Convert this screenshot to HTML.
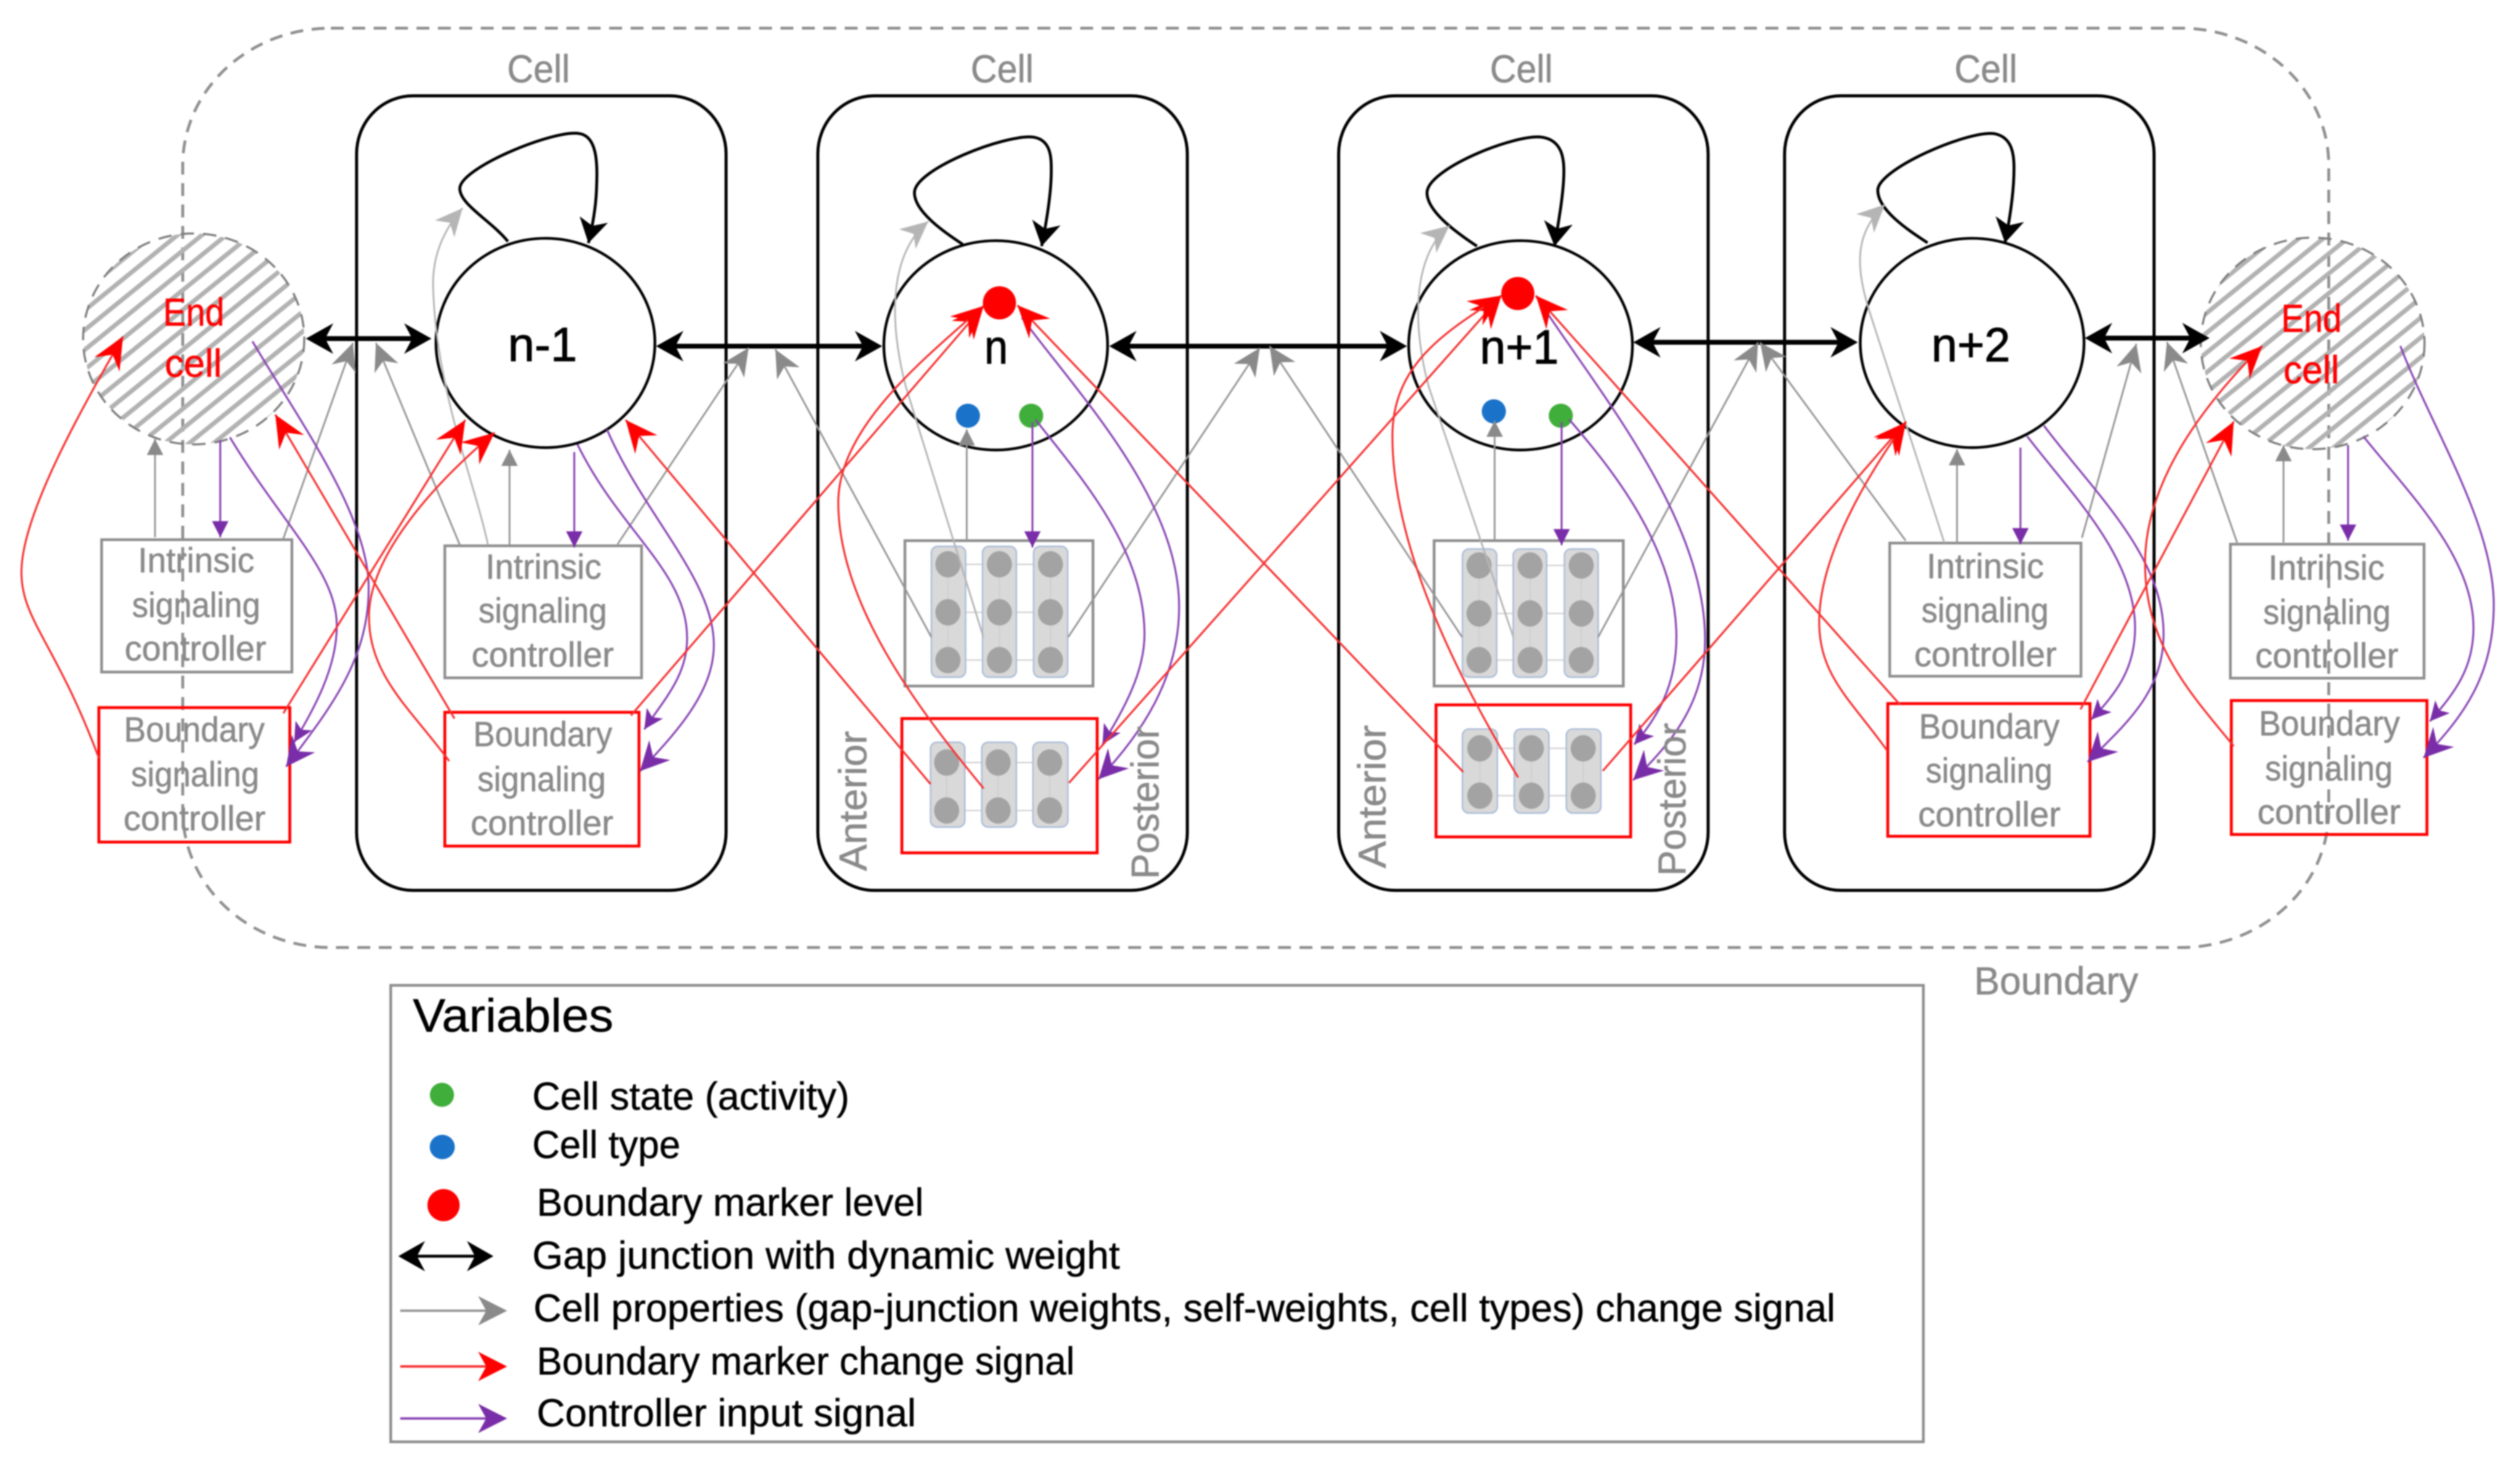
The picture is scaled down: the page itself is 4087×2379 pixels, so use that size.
<!DOCTYPE html>
<html><head><meta charset="utf-8"><style>
html,body{margin:0;padding:0;background:#fff}
svg{display:block;filter:blur(1px)}
text{font-family:"Liberation Sans",sans-serif}
.g{fill:#8a8a8a;stroke:#8a8a8a;stroke-width:.25;font-size:21.5px}
.c{fill:#8a8a8a;stroke:#8a8a8a;stroke-width:.25;font-size:24px}
.n{fill:#000;stroke:#000;stroke-width:.4;font-size:30px}
.e{fill:#f00;stroke:#f00;stroke-width:.25;font-size:24px}
.l{fill:#000;stroke:#000;stroke-width:.2;font-size:24px}
.cell{fill:none;stroke:#000;stroke-width:1.9}
.node{fill:none;stroke:#000;stroke-width:1.7}
.ib{fill:none;stroke:#8f8f8f;stroke-width:1.7}
.bb{fill:none;stroke:#f00;stroke-width:1.8}
.gl{fill:none;stroke:#969696;stroke-width:1.1}
.ll{fill:none;stroke:#b5b5b5;stroke-width:1.1}
.rl{fill:none;stroke:#f73030;stroke-width:1.2}
.pl{fill:none;stroke:#8a45b5;stroke-width:1.2}
.jl{fill:none;stroke:#000;stroke-width:3}
.lp{fill:none;stroke:#000;stroke-width:1.8}
.pill{fill:#d9d9d9;stroke:#a9bcd8;stroke-width:.9}
.dot{fill:#a3a3a3}
.w{stroke:#cfcfcf;stroke-width:.8;fill:none}
</style></head><body>
<svg xmlns="http://www.w3.org/2000/svg" width="4087" height="2379" viewBox="0 0 1565.3 911.15">
<defs>
<pattern id="h" patternUnits="userSpaceOnUse" width="9.55" height="9.55" patternTransform="rotate(-39)"><rect width="9.55" height="2.8" fill="#b2b2b2"/></pattern>
<marker id="mj" markerUnits="userSpaceOnUse" orient="auto-start-reverse" markerWidth="40" markerHeight="40" refX="20" refY="20" viewBox="0 0 40 40"><path d="M23,20 L6,10.5 L11,20 L6,29.5Z" fill="#000"/></marker>
<marker id="mk" markerUnits="userSpaceOnUse" orient="auto" markerWidth="40" markerHeight="40" refX="20" refY="20" viewBox="0 0 40 40"><path d="M20,20 L5,11 L9,20 L5,29Z" fill="#000"/></marker>
<marker id="gd" markerUnits="userSpaceOnUse" orient="auto" markerWidth="40" markerHeight="40" refX="20" refY="20" viewBox="0 0 40 40"><path d="M20,20 L3,12 L8,20 L3,28Z" fill="#8a8a8a"/></marker>
<marker id="gv" markerUnits="userSpaceOnUse" orient="auto" markerWidth="40" markerHeight="40" refX="20" refY="20" viewBox="0 0 40 40"><path d="M20,20 L10,14.9 L10,25.1Z" fill="#8a8a8a"/></marker>
<marker id="lg" markerUnits="userSpaceOnUse" orient="auto" markerWidth="40" markerHeight="40" refX="20" refY="20" viewBox="0 0 40 40"><path d="M20,20 L3,12 L8,20 L3,28Z" fill="#b5b5b5"/></marker>
<marker id="rd" markerUnits="userSpaceOnUse" orient="auto" markerWidth="40" markerHeight="40" refX="20" refY="20" viewBox="0 0 40 40"><path d="M20,20 L0,11 L7,20 L0,29Z" fill="#f00"/></marker>
<marker id="pb" markerUnits="userSpaceOnUse" orient="auto" markerWidth="40" markerHeight="40" refX="20" refY="20" viewBox="0 0 40 40"><path d="M20,20 L2,11 L8,20 L2,29Z" fill="#7a2da8"/></marker>
<marker id="ps" markerUnits="userSpaceOnUse" orient="auto" markerWidth="40" markerHeight="40" refX="20" refY="20" viewBox="0 0 40 40"><path d="M20,20 L8,14 L11,20 L8,26Z" fill="#7a2da8"/></marker>
<marker id="pv" markerUnits="userSpaceOnUse" orient="auto" markerWidth="40" markerHeight="40" refX="20" refY="20" viewBox="0 0 40 40"><path d="M20,20 L10,14.9 L10,25.1Z" fill="#7a2da8"/></marker>
</defs>
<rect width="1565.3" height="911.15" fill="#fff"/>

<!-- boundary -->
<rect x="113.5" y="17.5" width="1333" height="571" rx="92" ry="85" fill="none" stroke="#909090" stroke-width="1.8" stroke-dasharray="8 5.3"/>

<!-- end cells -->
<ellipse cx="120.3" cy="210.5" rx="68.7" ry="65.5" fill="url(#h)" stroke="#7f7f7f" stroke-width="1.3" stroke-dasharray="8.3 5.7"/>
<ellipse cx="1436.5" cy="213.3" rx="69.5" ry="65.7" fill="url(#h)" stroke="#7f7f7f" stroke-width="1.3" stroke-dasharray="8.3 5.7"/>

<!-- cells -->
<rect class="cell" x="221.5" y="59.5" width="229.5" height="493.5" rx="35" ry="36"/>
<rect class="cell" x="508" y="59.5" width="229.5" height="493.5" rx="35" ry="36"/>
<rect class="cell" x="831.5" y="59.5" width="229.5" height="493.5" rx="35" ry="36"/>
<rect class="cell" x="1108.5" y="59.5" width="229.5" height="493.5" rx="35" ry="36"/>

<!-- nodes -->
<ellipse class="node" cx="338.8" cy="213" rx="68" ry="65"/>
<ellipse class="node" cx="618.5" cy="214.5" rx="69.5" ry="65"/>
<ellipse class="node" cx="944.5" cy="214.5" rx="69.5" ry="65"/>
<ellipse class="node" cx="1225" cy="213" rx="69.5" ry="65"/>

<!-- networks -->
<g>
<rect class="ib" x="562.1" y="335.8" width="116.8" height="90.3"/>
<path class="w" d="M588.8,350.5H652.5M588.8,380.3H652.5M588.8,410H652.5"/>
<rect class="pill" x="578.5" y="339.3" width="21.3" height="81.3" rx="4"/><rect class="pill" x="610.3" y="339.3" width="21" height="81.3" rx="4"/><rect class="pill" x="642" y="339.3" width="21.2" height="81.3" rx="4"/>
<path class="w" d="M588.8,350.5V410M620.8,350.5V410M652.5,350.5V410"/>
<g class="dot"><ellipse cx="588.8" cy="350.5" rx="7.8" ry="8.2"/><ellipse cx="588.8" cy="380.3" rx="7.8" ry="8.2"/><ellipse cx="588.8" cy="410" rx="7.8" ry="8.2"/><ellipse cx="620.8" cy="350.5" rx="7.8" ry="8.2"/><ellipse cx="620.8" cy="380.3" rx="7.8" ry="8.2"/><ellipse cx="620.8" cy="410" rx="7.8" ry="8.2"/><ellipse cx="652.5" cy="350.5" rx="7.8" ry="8.2"/><ellipse cx="652.5" cy="380.3" rx="7.8" ry="8.2"/><ellipse cx="652.5" cy="410" rx="7.8" ry="8.2"/></g>
<rect class="bb" x="560.2" y="446.3" width="121.3" height="83.4"/>
<path class="w" d="M588,473.6H652M588,503.4H652"/>
<rect class="pill" x="578" y="461" width="21.3" height="52.7" rx="4"/><rect class="pill" x="609.8" y="461" width="21.5" height="52.7" rx="4"/><rect class="pill" x="641.6" y="461" width="21.7" height="52.7" rx="4"/>
<path class="w" stroke="#aaa" d="M588,473.6V503.4M620,473.6V503.4M652,473.6V503.4"/>
<g class="dot"><ellipse cx="588" cy="473.6" rx="7.8" ry="8.2"/><ellipse cx="588" cy="503.4" rx="7.8" ry="8.2"/><ellipse cx="620" cy="473.6" rx="7.8" ry="8.2"/><ellipse cx="620" cy="503.4" rx="7.8" ry="8.2"/><ellipse cx="652" cy="473.6" rx="7.8" ry="8.2"/><ellipse cx="652" cy="503.4" rx="7.8" ry="8.2"/></g>
</g>
<g>
<rect class="ib" x="890.8" y="335.8" width="117.5" height="90.3"/>
<path class="w" d="M918.7,351.2H982.2M918.7,381H982.2M918.7,410H982.2"/>
<rect class="pill" x="908.4" y="341" width="21.3" height="79.6" rx="4"/><rect class="pill" x="939.9" y="341" width="20.8" height="79.6" rx="4"/><rect class="pill" x="971.7" y="341" width="21" height="79.6" rx="4"/>
<path class="w" d="M918.7,351.2V410M950.4,351.2V410M982.2,351.2V410"/>
<g class="dot"><ellipse cx="918.7" cy="351.2" rx="7.8" ry="8.2"/><ellipse cx="918.7" cy="381" rx="7.8" ry="8.2"/><ellipse cx="918.7" cy="410" rx="7.8" ry="8.2"/><ellipse cx="950.4" cy="351.2" rx="7.8" ry="8.2"/><ellipse cx="950.4" cy="381" rx="7.8" ry="8.2"/><ellipse cx="950.4" cy="410" rx="7.8" ry="8.2"/><ellipse cx="982.2" cy="351.2" rx="7.8" ry="8.2"/><ellipse cx="982.2" cy="381" rx="7.8" ry="8.2"/><ellipse cx="982.2" cy="410" rx="7.8" ry="8.2"/></g>
<rect class="bb" x="892" y="437.8" width="120.9" height="82"/>
<path class="w" d="M919.2,464.8H983.4M919.2,494.2H983.4"/>
<rect class="pill" x="908.4" y="452.8" width="21.7" height="52.2" rx="4"/><rect class="pill" x="940.6" y="452.8" width="21.5" height="52.2" rx="4"/><rect class="pill" x="972.9" y="452.8" width="21.5" height="52.2" rx="4"/>
<path class="w" d="M919.2,464.8V494.2M951.2,464.8V494.2M983.4,464.8V494.2"/>
<g class="dot"><ellipse cx="919.2" cy="464.8" rx="7.8" ry="8.2"/><ellipse cx="919.2" cy="494.2" rx="7.8" ry="8.2"/><ellipse cx="951.2" cy="464.8" rx="7.8" ry="8.2"/><ellipse cx="951.2" cy="494.2" rx="7.8" ry="8.2"/><ellipse cx="983.4" cy="464.8" rx="7.8" ry="8.2"/><ellipse cx="983.4" cy="494.2" rx="7.8" ry="8.2"/></g>
</g>

<!-- controllers -->
<rect class="ib" x="63.1" y="335.2" width="118.2" height="82.2"/>
<rect class="ib" x="276.3" y="339" width="122.2" height="82"/>
<rect class="ib" x="1173.8" y="337.3" width="118.8" height="82.7"/>
<rect class="ib" x="1385.4" y="338" width="120.3" height="83.2"/>
<rect class="bb" x="61.4" y="439.5" width="118.6" height="83.5"/>
<rect class="bb" x="276.3" y="442.4" width="120.6" height="83.1"/>
<rect class="bb" x="1172.6" y="437" width="125.6" height="82.4"/>
<rect class="bb" x="1386" y="435.1" width="121.5" height="83.2"/>

<!-- markers -->
<ellipse cx="620.8" cy="188.1" rx="10.3" ry="10.3" fill="#f00"/>
<ellipse cx="601.2" cy="258.2" rx="7.5" ry="7.5" fill="#1a72c9"/>
<ellipse cx="640.5" cy="258.2" rx="7.5" ry="7.5" fill="#3fae3a"/>
<ellipse cx="942.8" cy="182.3" rx="10.3" ry="10.3" fill="#f00"/>
<ellipse cx="927.9" cy="255.5" rx="7.5" ry="7.5" fill="#1a72c9"/>
<ellipse cx="969.5" cy="258.2" rx="7.5" ry="7.5" fill="#3fae3a"/>

<!-- self loops -->
<path class="lp" marker-end="url(#mk)" d="M315.5,150 C305,137 285.5,127 285.6,117 C286,104 345,80 360,83 C372,85 371,105 370.5,118 C370,130 368,140 365.5,151"/>
<path class="lp" marker-end="url(#mk)" d="M598,151.8 C588,145 568,132 568,119.7 C568,105 625,83 642,85.2 C653,87 653,98 653,106 C653,120 650,138 647,152.9"/>
<path class="lp" marker-end="url(#mk)" d="M917.4,152.9 C907,146 886.4,132 886.4,119.7 C886.4,105 941,83 957.7,85.2 C970,87 971.4,98 971.4,106 C971.4,120 968,138 965.6,152.9"/>
<path class="lp" marker-end="url(#mk)" d="M1197.3,150.8 C1187,144 1166.4,131 1166.4,118.2 C1166.4,105 1222,81 1238.6,83 C1250,85 1251,96 1251,104.3 C1251,120 1248,138 1245.4,150.8"/>

<!-- gap junctions -->
<path class="jl" marker-start="url(#mj)" marker-end="url(#mj)" d="M193,210.3H265"/>
<path class="jl" marker-start="url(#mj)" marker-end="url(#mj)" d="M410.5,215H545"/>
<path class="jl" marker-start="url(#mj)" marker-end="url(#mj)" d="M692,215H871"/>
<path class="jl" marker-start="url(#mj)" marker-end="url(#mj)" d="M1017.5,212.6H1151"/>
<path class="jl" marker-start="url(#mj)" marker-end="url(#mj)" d="M1298,210H1369.5"/>

<!-- light gray to loops -->
<path class="ll" marker-end="url(#lg)" d="M303,338 C295,300 270,240 269,176 C269,155 278,140 287.3,129.3"/>
<path class="ll" marker-end="url(#lg)" d="M610.8,395.6 L562.6,240 C553.6,205 550,160 576.6,137.5"/>
<path class="ll" marker-end="url(#lg)" d="M940,395.7 L887.4,240 C878,205 876,160 900.3,140.2"/>
<path class="ll" marker-end="url(#lg)" d="M1207.7,337 L1162,195.9 C1152,165 1152,145 1170.8,127"/>

<!-- gray arrows -->
<path class="gl" marker-end="url(#gv)" d="M96.3,333.7V272.6"/>
<path class="gl" marker-end="url(#gd)" d="M176,334.5L219.2,213"/>
<path class="gl" marker-end="url(#gd)" d="M285.6,338.4L233.5,213"/>
<path class="gl" marker-end="url(#gv)" d="M316.5,338.4V279.4"/>
<path class="gl" marker-end="url(#gd)" d="M383.6,338L465,216"/>
<path class="gl" marker-end="url(#gd)" d="M578.5,395.7L481.6,217"/>
<path class="gl" marker-end="url(#gv)" d="M600.5,335.8V266.7"/>
<path class="gl" marker-end="url(#gd)" d="M663.5,395.7L782.5,216.1"/>
<path class="gl" marker-end="url(#gd)" d="M908.2,395.7L788.6,215"/>
<path class="gl" marker-end="url(#gv)" d="M928.4,335.8V261.3"/>
<path class="gl" marker-end="url(#gd)" d="M992.7,395.7L1092,212.7"/>
<path class="gl" marker-end="url(#gd)" d="M1183.7,335.8L1093.3,212.7"/>
<path class="gl" marker-end="url(#gv)" d="M1215.6,337V279"/>
<path class="gl" marker-end="url(#gd)" d="M1293.2,334L1327,213.5"/>
<path class="gl" marker-end="url(#gd)" d="M1389.6,337L1346,212.4"/>
<path class="gl" marker-end="url(#gv)" d="M1418.4,337V276.5"/>

<!-- purple vertical -->
<path class="pl" marker-end="url(#pv)" d="M136.8,273.5V333.7"/>
<path class="pl" marker-end="url(#pv)" d="M356.7,280.8V340"/>
<path class="pl" marker-end="url(#pv)" d="M641.3,262.3V340"/>
<path class="pl" marker-end="url(#pv)" d="M970,262.3V338.6"/>
<path class="pl" marker-end="url(#pv)" d="M1255,278V338"/>
<path class="pl" marker-end="url(#pv)" d="M1458.5,276.5V335.8"/>

<!-- purple curves -->
<path class="pl" marker-end="url(#ps)" d="M142.8,271.6 C175,325 209.2,355 209.2,388.7 C209.2,415 195,440 182.7,461"/>
<path class="pl" marker-end="url(#pb)" d="M156.8,212 C185,260 229,320 229,365 C229,410 205,440 177.7,476.2"/>
<path class="pl" marker-end="url(#ps)" d="M358.7,276 C385,330 426.8,355 426.8,396.5 C426.8,420 412,435 400.2,453"/>
<path class="pl" marker-end="url(#pb)" d="M377,266.7 C400,320 443.4,360 443.4,400.4 C443.4,430 420,455 397.5,479"/>
<path class="pl" marker-end="url(#ps)" d="M643.2,260.6 C670,295 710.9,340 710.9,394 C710.9,420 695,445 684.8,462.4"/>
<path class="pl" marker-end="url(#pb)" d="M634.7,197.3 C670,245 732.4,310 732.4,376.9 C732.4,420 710,455 682.3,484"/>
<path class="pl" marker-end="url(#ps)" d="M974.8,260.6 C1000,290 1041.3,340 1041.3,395.7 C1041.3,425 1030,445 1015.1,462.4"/>
<path class="pl" marker-end="url(#pb)" d="M954,183.7 C990,240 1059.1,320 1059.1,397.4 C1059.1,435 1040,460 1014.4,484.6"/>
<path class="pl" marker-end="url(#ps)" d="M1259.2,271 C1285,305 1326.2,345 1326.2,390 C1326.2,415 1315,430 1299,446.9"/>
<path class="pl" marker-end="url(#pb)" d="M1269.6,264.4 C1300,305 1343.9,345 1343.9,393.7 C1343.9,430 1320,450 1296.7,473.3"/>
<path class="pl" marker-end="url(#ps)" d="M1468,271 C1495,305 1536.4,345 1536.4,390 C1536.4,415 1525,430 1509.3,448"/>
<path class="pl" marker-end="url(#pb)" d="M1491,214.9 C1510,265 1549,325 1549,375.4 C1549,420 1530,445 1505.4,470.7"/>

<!-- red -->
<path class="rl" marker-end="url(#rd)" d="M61.4,470.8 C35,400 13.3,385 13.3,355.5 C13.3,320 50,255 76.4,209"/>
<path class="rl" marker-end="url(#rd)" d="M282.3,446.3L171,257.5"/>
<path class="rl" marker-end="url(#rd)" d="M176,443L289,260.8"/>
<path class="rl" marker-end="url(#rd)" d="M279,472.7 C255,440 229.2,420 229.2,382.8 C229.2,345 270,300 307.2,268.7"/>
<path class="rl" marker-end="url(#rd)" d="M391.9,444.4L611,190"/>
<path class="rl" marker-end="url(#rd)" d="M578,487L388.6,260.8"/>
<path class="rl" marker-end="url(#rd)" d="M611,489.7 C570,440 520.7,375 520.7,312 C520.7,265 575,222 611,190"/>
<path class="rl" marker-end="url(#rd)" d="M664,486.3L932.6,183.6"/>
<path class="rl" marker-end="url(#rd)" d="M908.9,479.5L632,189.6"/>
<path class="rl" marker-end="url(#rd)" d="M943,482.9 C905,420 864.9,340 864.9,270.9 C864.9,225 900,205 932.6,183.6"/>
<path class="rl" marker-end="url(#rd)" d="M995.6,478.8L1183.7,262.3"/>
<path class="rl" marker-end="url(#rd)" d="M1180.2,437.7L954,183.6"/>
<path class="rl" marker-end="url(#rd)" d="M1172.3,466.3 C1150,435 1130,420 1130,386.4 C1130,345 1160,295 1184,261.8"/>
<path class="rl" marker-end="url(#rd)" d="M1292.3,440.6L1387.5,261.8"/>
<path class="rl" marker-end="url(#rd)" d="M1387.5,463.4 C1360,430 1332.4,400 1332.4,349.8 C1332.4,295 1375,245 1405.2,214.9"/>

<!-- text -->
<text class="c" x="315" y="51.2" textLength="39" lengthAdjust="spacingAndGlyphs">Cell</text>
<text class="c" x="603" y="51.2" textLength="39" lengthAdjust="spacingAndGlyphs">Cell</text>
<text class="c" x="925.5" y="51.2" textLength="39" lengthAdjust="spacingAndGlyphs">Cell</text>
<text class="c" x="1214" y="51.2" textLength="39" lengthAdjust="spacingAndGlyphs">Cell</text>
<text class="n" x="315.5" y="224.3" textLength="43" lengthAdjust="spacingAndGlyphs">n-1</text>
<text class="n" x="611.5" y="225.7" textLength="14.5" lengthAdjust="spacingAndGlyphs">n</text>
<text class="n" x="919.2" y="225.7" textLength="49" lengthAdjust="spacingAndGlyphs">n+1</text>
<text class="n" x="1199.7" y="224.4" textLength="49" lengthAdjust="spacingAndGlyphs">n+2</text>
<text class="e" x="101.3" y="202.2" textLength="38" lengthAdjust="spacingAndGlyphs">End</text>
<text class="e" x="102.3" y="234" textLength="35.5" lengthAdjust="spacingAndGlyphs">cell</text>
<text class="e" x="1417" y="206.1" textLength="37.5" lengthAdjust="spacingAndGlyphs">End</text>
<text class="e" x="1418.4" y="238" textLength="34.6" lengthAdjust="spacingAndGlyphs">cell</text>

<text class="g" x="85.7" y="355.5" textLength="72.3" lengthAdjust="spacingAndGlyphs">Intrinsic</text>
<text class="g" x="82" y="383.2" textLength="79.7" lengthAdjust="spacingAndGlyphs">signaling</text>
<text class="g" x="77.4" y="410.2" textLength="88" lengthAdjust="spacingAndGlyphs">controller</text>
<text class="g" x="301.6" y="359.4" textLength="72" lengthAdjust="spacingAndGlyphs">Intrinsic</text>
<text class="g" x="297.2" y="386.7" textLength="79.8" lengthAdjust="spacingAndGlyphs">signaling</text>
<text class="g" x="292.9" y="414.1" textLength="88.4" lengthAdjust="spacingAndGlyphs">controller</text>
<text class="g" x="77" y="460.6" textLength="87.4" lengthAdjust="spacingAndGlyphs">Boundary</text>
<text class="g" x="81.4" y="488.3" textLength="79.6" lengthAdjust="spacingAndGlyphs">signaling</text>
<text class="g" x="76.7" y="515.7" textLength="88.3" lengthAdjust="spacingAndGlyphs">controller</text>
<text class="g" x="294" y="463.5" textLength="86.3" lengthAdjust="spacingAndGlyphs">Boundary</text>
<text class="g" x="296.6" y="491.3" textLength="79.7" lengthAdjust="spacingAndGlyphs">signaling</text>
<text class="g" x="292.3" y="518.6" textLength="88.7" lengthAdjust="spacingAndGlyphs">controller</text>
<text class="g" x="1196.7" y="359" textLength="72.9" lengthAdjust="spacingAndGlyphs">Intrinsic</text>
<text class="g" x="1193.5" y="386.4" textLength="79" lengthAdjust="spacingAndGlyphs">signaling</text>
<text class="g" x="1189" y="413.9" textLength="88.5" lengthAdjust="spacingAndGlyphs">controller</text>
<text class="g" x="1192" y="458.6" textLength="87.3" lengthAdjust="spacingAndGlyphs">Boundary</text>
<text class="g" x="1196.2" y="486" textLength="78.7" lengthAdjust="spacingAndGlyphs">signaling</text>
<text class="g" x="1191.4" y="513.2" textLength="88.5" lengthAdjust="spacingAndGlyphs">controller</text>
<text class="g" x="1409" y="360" textLength="72.2" lengthAdjust="spacingAndGlyphs">Intrinsic</text>
<text class="g" x="1405.8" y="387.5" textLength="79.2" lengthAdjust="spacingAndGlyphs">signaling</text>
<text class="g" x="1400.8" y="414.6" textLength="89" lengthAdjust="spacingAndGlyphs">controller</text>
<text class="g" x="1403.1" y="456.8" textLength="87.6" lengthAdjust="spacingAndGlyphs">Boundary</text>
<text class="g" x="1407" y="484.6" textLength="79.2" lengthAdjust="spacingAndGlyphs">signaling</text>
<text class="g" x="1402.2" y="511.7" textLength="89" lengthAdjust="spacingAndGlyphs">controller</text>

<text class="c" transform="translate(538.1,541) rotate(-90)" textLength="87" lengthAdjust="spacingAndGlyphs">Anterior</text>
<text class="c" transform="translate(719.7,546) rotate(-90)" textLength="95" lengthAdjust="spacingAndGlyphs">Posterior</text>
<text class="c" transform="translate(860.5,539.3) rotate(-90)" textLength="89" lengthAdjust="spacingAndGlyphs">Anterior</text>
<text class="c" transform="translate(1046.9,544) rotate(-90)" textLength="95" lengthAdjust="spacingAndGlyphs">Posterior</text>
<text class="c" x="1226.2" y="617.6" textLength="102" lengthAdjust="spacingAndGlyphs">Boundary</text>

<!-- legend -->
<rect x="242.7" y="612" width="952" height="283.5" fill="none" stroke="#8f8f8f" stroke-width="1.7"/>
<text class="l" style="font-size:29px" x="256.4" y="640.8" textLength="124.6" lengthAdjust="spacingAndGlyphs">Variables</text>
<ellipse cx="274.5" cy="680" rx="7.5" ry="7.5" fill="#3fae3a"/>
<ellipse cx="274.7" cy="712.4" rx="7.8" ry="7.6" fill="#1a72c9"/>
<ellipse cx="275.5" cy="748.5" rx="10" ry="10" fill="#f00"/>
<text class="l" x="330.6" y="689.2" textLength="197" lengthAdjust="spacingAndGlyphs">Cell state (activity)</text>
<text class="l" x="330.6" y="719.3" textLength="92" lengthAdjust="spacingAndGlyphs">Cell type</text>
<text class="l" x="333.4" y="755" textLength="240.3" lengthAdjust="spacingAndGlyphs">Boundary marker level</text>
<text class="l" x="330.6" y="788" textLength="365" lengthAdjust="spacingAndGlyphs">Gap junction with dynamic weight</text>
<text class="l" x="331.4" y="820.7" textLength="808.6" lengthAdjust="spacingAndGlyphs">Cell properties (gap-junction weights, self-weights, cell types) change signal</text>
<text class="l" x="333.4" y="853.7" textLength="334.1" lengthAdjust="spacingAndGlyphs">Boundary marker change signal</text>
<text class="l" x="333.4" y="885.9" textLength="235.6" lengthAdjust="spacingAndGlyphs">Controller input signal</text>
<path d="M250,780.2H303" stroke="#000" stroke-width="1.8" fill="none"/>
<path d="M247.4,780.2 L264,770.8 L259,780.2 L264,789.6Z M306.5,780.2 L290,770.8 L295,780.2 L290,789.6Z" fill="#000"/>
<path d="M248.6,814.1H312" stroke="#969696" stroke-width="1.5" fill="none"/>
<path d="M315,814.1 L297,805 L302,814.1 L297,823.2Z" fill="#8a8a8a"/>
<path d="M248.6,848.7H312" stroke="#f73030" stroke-width="1.5" fill="none"/>
<path d="M315,848.7 L297,839.6 L302,848.7 L297,857.8Z" fill="#f00"/>
<path d="M248.6,881H312" stroke="#8a45b5" stroke-width="1.5" fill="none"/>
<path d="M315,881 L297,871.9 L302,881 L297,890.1Z" fill="#7a2da8"/>
</svg>
</body></html>
